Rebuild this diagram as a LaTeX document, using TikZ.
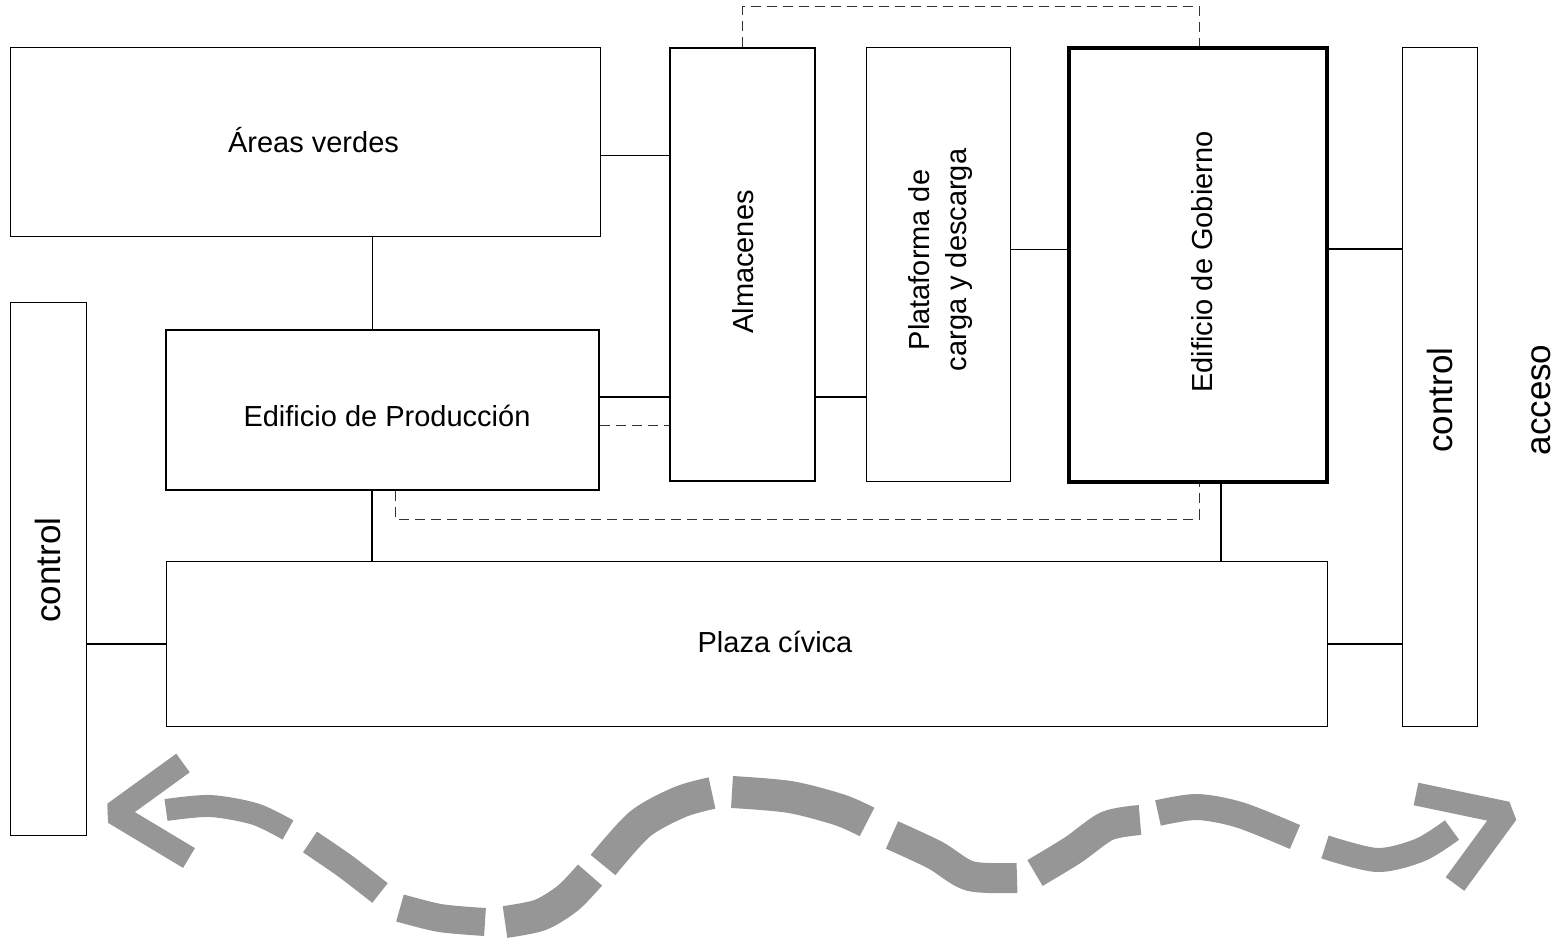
\documentclass[tikz,border=0pt]{standalone}
\usepackage{fontspec}
\setmainfont{Liberation Sans}
\usetikzlibrary{fit}
\definecolor{arrowgray}{RGB}{150,150,150}
\begin{document}
\begin{tikzpicture}[x=0.5pt,y=-0.5pt,
  box/.style={draw=black, inner sep=0pt, line width=0.5pt},
  medbox/.style={box, line width=1pt},
  heavybox/.style={box, line width=1.8pt},
  thinline/.style={draw=black, line width=0.5pt},
  medline/.style={draw=black, line width=1pt},
  dashline/.style={draw=black!80, line width=0.5pt, dash pattern=on 5pt off 3pt},
  txt/.style={font=\fontsize{14.5}{18.5}\selectfont, inner sep=0pt, align=center},
  bigtxt/.style={font=\fontsize{17.5}{21}\selectfont, inner sep=0pt},
  wave/.style={draw=arrowgray, line width=11pt, line cap=butt},
  chev/.style={draw=arrowgray, line width=11.5pt, line cap=butt, line join=bevel}]
\useasboundingbox (0,0) rectangle (1564,947);

% boxes
\node[box, fit={(10,48) (600,236)}] (verdes) {};
\node[medbox, fit={(670,48) (815,481)}] (alm) {};
\node[box, fit={(866,48) (1010,481)}] (plat) {};
\node[heavybox, fit={(1069,48) (1327,482)}] (gob) {};
\node[box, fit={(1402,48) (1477,726)}] (ctrR) {};
\node[box, fit={(10,302) (86,835)}] (ctrL) {};
\node[medbox, fit={(166,330) (599,490)}] (prod) {};
\node[box, fit={(166,561) (1327,726)}] (plaza) {};

% texts
\node[txt, anchor=base] (tverdes) at (313.5,153) {Áreas verdes};
\node[txt, anchor=base] (tprod) at (387,426) {Edificio de Producción};
\node[txt, anchor=base] (tplaza) at (775,652) {Plaza cívica};
\node[txt, rotate=90] (talm) at (743,262) {Almacenes};
\node[txt, rotate=90] (tplat) at (940,260) {Plataforma de\\carga y descarga};
\node[txt, rotate=90] (tgob) at (1202,262) {Edificio de Gobierno};
\node[bigtxt, rotate=90] (tctrR) at (1440,400) {control};
\node[bigtxt, rotate=90] (tctrL) at (48,570) {control};
\node[bigtxt, rotate=90] (tacceso) at (1541,400) {acceso};

% helper coordinates
\coordinate (h7) at (0,7);
\coordinate (h156) at (0,156);
\coordinate (h249) at (0,249);
\coordinate (h397) at (0,397);
\coordinate (h425) at (0,425);
\coordinate (h519) at (0,519);
\coordinate (h644) at (0,644);
\coordinate (v372) at (372,0);
\coordinate (v395) at (395,0);
\coordinate (v1199) at (1199,0);
\coordinate (v1221) at (1221,0);

% connectors
\draw[thinline] (verdes.east |- h156) -- (alm.west |- h156);
\draw[thinline] (verdes.south -| v372) -- (prod.north -| v372);
\draw[medline] (prod.east |- h397) -- (alm.west |- h397);
\draw[dashline] (prod.east |- h425) -- (alm.west |- h425);
\draw[medline] (alm.east |- h397) -- (plat.west |- h397);
\draw[thinline] (plat.east |- h249) -- (gob.west |- h249);
\draw[medline] (gob.east |- h249) -- (ctrR.west |- h249);
\draw[dashline] (alm.north) -- (alm.north |- h7) -| (gob.north -| v1199);
\draw[dashline] (prod.south -| v395) -- (v395 |- h519) -| (gob.south -| v1199);
\draw[medline] (prod.south -| v372) -- (plaza.north -| v372);
\draw[medline] (gob.south -| v1221) -- (plaza.north -| v1221);
\draw[medline] (ctrL.east |- h644) -- (plaza.west |- h644);
\draw[medline] (plaza.east |- h644) -- (ctrR.west |- h644);

% grey wavy two-headed dashed arrow
\draw[chev] (183,763) -- (114,813) -- (189,858);
\draw[wave] plot[smooth] coordinates {(166,810) (210,806) (255,814) (288,830)};
\draw[wave, line width=12.5pt] plot[smooth] coordinates {(310,842) (345,866) (380,893)};
\draw[wave, line width=14pt] plot[smooth] coordinates {(400,908) (440,918) (485,922)};
\draw[wave, line width=16pt] plot[smooth] coordinates {(505,922) (540,915) (568,898) (590,875)};
\draw[wave, line width=16pt] plot[smooth] coordinates {(603,865) (640,824) (680,802) (712,793)};
\draw[wave, line width=16pt] plot[smooth] coordinates {(732,792) (790,797) (840,810) (867,822)};
\draw[wave, line width=15pt] plot[smooth] coordinates {(892,835) (935,855) (970,876) (1017,878)};
\draw[wave, line width=15pt] plot[smooth] coordinates {(1035,873) (1073,850) (1107,826) (1140,820)};
\draw[wave, line width=13pt] plot[smooth] coordinates {(1158,813) (1197,807) (1240,815) (1295,837)};
\draw[wave, line width=12pt] plot[smooth] coordinates {(1325,847) (1377,860) (1420,850) (1452,830)};
\draw[chev] (1416,794) -- (1507,813) -- (1455,884);
\end{tikzpicture}
\end{document}
